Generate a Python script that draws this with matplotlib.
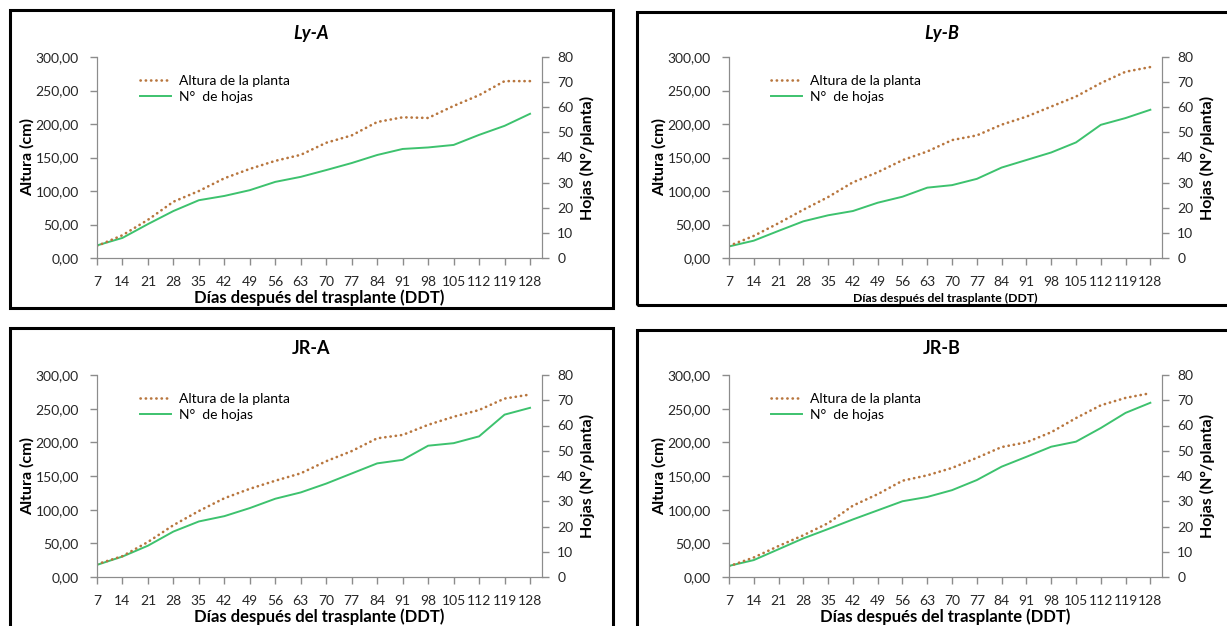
import matplotlib
matplotlib.use('Agg')
from matplotlib import pyplot as plt
from matplotlib.patches import Rectangle

plt.rcParams['font.family'] = ['Lato', 'DejaVu Sans']

dias = ['7', '14', '21', '28', '35', '42', '49', '56', '63', '70', '77', '84',
        '91', '98', '105', '112', '119', '128']
ytick_cm = [0, 50, 100, 150, 200, 250, 300]
ytick_cm_labels = ['0,00', '50,00', '100,00', '150,00', '200,00', '250,00', '300,00']
ytick_hojas = [0, 10, 20, 30, 40, 50, 60, 70, 80]

lya_altura = [18, 34, 57, 84, 100, 119, 133, 145, 154, 172, 183, 203, 210, 209, 227, 243, 264, 264]
lya_hojas = [5, 8, 13.5, 18.7, 23, 24.7, 27, 30.3, 32.3, 35, 37.8, 41, 43.4, 44, 45, 49, 52.6, 57.4]

lyb_altura = [18, 33, 52, 72, 91, 113, 128, 146, 159, 176, 183, 199, 211, 226, 241, 261, 278, 285]
lyb_hojas = [4.6, 6.9, 10.8, 14.6, 17, 18.7, 22, 24.4, 28, 29, 31.5, 36, 39, 42, 46, 53, 55.7, 59]

jra_altura = [19, 31, 52, 77, 98, 117, 131, 143, 154, 172, 187, 206, 211, 226, 238, 248, 265, 271]
jra_hojas = [4.8, 8.1, 12.4, 18, 22, 24.1, 27.3, 31, 33.5, 37, 41, 45, 46.4, 52, 53, 55.7, 64.3, 67]

jrb_altura = [16, 29, 46, 62, 80, 106, 123, 143, 151, 162, 177, 193, 200, 215, 236, 255, 266, 273]
jrb_hojas = [4.4, 6.7, 11, 15.3, 19, 22.8, 26.4, 30, 31.7, 34.4, 38.4, 43.7, 47.6, 51.6, 53.6, 59, 65, 69]

W, H = 1227, 626
BROWN = '#B8763E'
GREEN = '#3DC26E'
SPINE = '#8C8C8C'
TXT = '#262626'

fig = plt.figure(figsize=(W / 100, H / 100), dpi=100)


def frac(l, t, r, b):
    return [l / W, 1 - b / H, (r - l) / W, (b - t) / H]


def ftext(x, y, s, **kw):
    fig.text(x / W, 1 - y / H, s, ha='center', va='center', **kw)


# (title, italic, altura, hojas, axes box px, border box px, xlabel size)
panels = [
    ('Ly-A', True, lya_altura, lya_hojas, (97, 57, 542, 258), (10, 10, 613, 308), 12),
    ('Ly-B', True, lyb_altura, lyb_hojas, (729, 57, 1162, 258), (637, 12, 1232, 305), 8.8),
    ('JR-A', False, jra_altura, jra_hojas, (97, 375, 542, 577), (10, 328, 613, 632), 12),
    ('JR-B', False, jrb_altura, jrb_hojas, (729, 375, 1162, 577), (637, 330, 1232, 632), 12),
]

for title, italic, altura, hojas, box, border, xl_size in panels:
    l, t, r, b = box
    fig.patches.append(Rectangle((border[0] / W, 1 - border[3] / H),
                                 (border[2] - border[0]) / W, (border[3] - border[1]) / H,
                                 transform=fig.transFigure, fill=False, ec='black', lw=2.2))
    ax = fig.add_axes(frac(l, t, r, b))
    ax2 = ax.twinx()
    x = list(range(len(dias)))
    l1, = ax.plot(x, altura, color=BROWN, lw=1.9, linestyle=(0, (0.1, 1.9)),
                  dash_capstyle='round', label='Altura de la planta')
    l2, = ax2.plot(x, hojas, color=GREEN, lw=1.4, label='N°  de hojas')
    ax.set_xlim(0, 17.47)
    ax.set_ylim(0, 300)
    ax2.set_ylim(0, 80)
    ax.set_xticks(x)
    ax.set_xticklabels(dias)
    ax.set_yticks(ytick_cm)
    ax.set_yticklabels(ytick_cm_labels)
    ax2.set_yticks(ytick_hojas)
    for a in (ax, ax2):
        a.spines['top'].set_visible(False)
        for s in ('left', 'right', 'bottom'):
            a.spines[s].set_color(SPINE)
        a.tick_params(colors=SPINE, labelcolor=TXT, labelsize=10, length=5, width=1)
    ax.tick_params(axis='x', pad=8)
    ax.tick_params(axis='y', pad=8)
    ax2.tick_params(axis='y', pad=6)
    ax.set_zorder(ax2.get_zorder() + 1)
    ax.patch.set_visible(False)
    ax.legend([l1, l2], ['Altura de la planta', 'N°  de hojas'], loc='upper left',
              bbox_to_anchor=(0.085, 0.94), frameon=False, fontsize=10,
              handlelength=2.2, handletextpad=0.6, labelspacing=0.3, borderaxespad=0)

    cx = (border[0] + border[2]) / 2 if border[2] < 1227 else (l + r) / 2 - 4
    ftext(cx, t - 24 if t < 100 else t - 27, title, fontsize=13, fontweight='bold',
          style='italic' if italic else 'normal', color='black')
    ftext(l - 70, (t + b) / 2, 'Altura (cm)', rotation=90, fontsize=11.5,
          fontweight='bold', color='black')
    ftext(r + 45, (t + b) / 2, 'Hojas (N°/planta)', rotation=90, fontsize=11.5,
          fontweight='bold', color='black')
    ftext((l + r) / 2, b + 40, 'Días después del trasplante (DDT)', fontsize=xl_size,
          fontweight='bold', color='black')

plt.savefig('out.png', dpi=100)
